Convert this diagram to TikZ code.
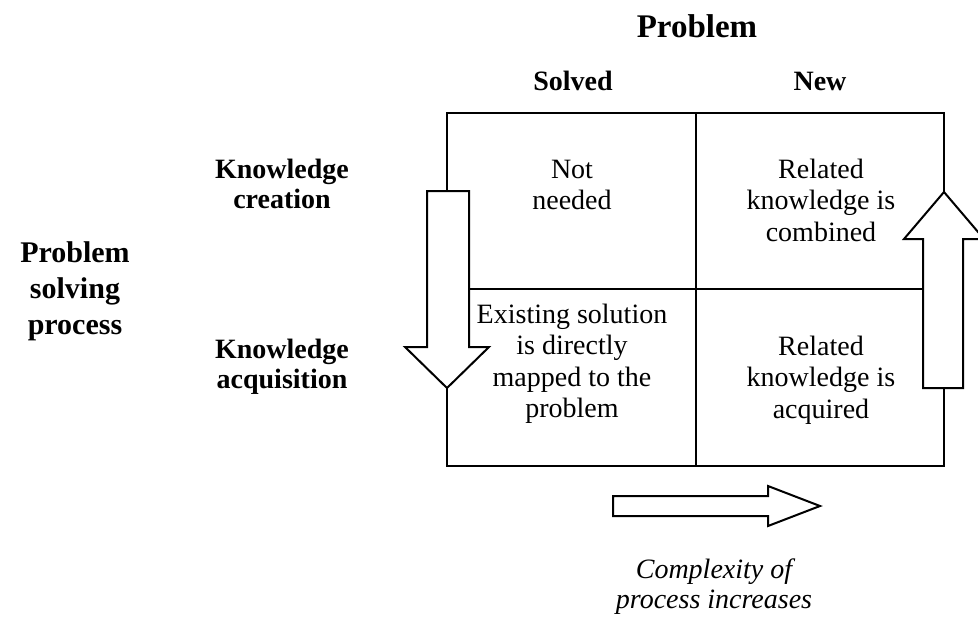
\documentclass[tikz,border=0pt]{standalone}
\usepackage{fontspec}
\setmainfont{Liberation Serif}
\begin{document}
\begin{tikzpicture}[x=1pt,y=-1pt,
  rule/.style={line width=2pt, line cap=rect},
  fatarrow/.style={draw, line width=2pt, fill=white, line join=miter},
  title/.style={font=\bfseries\fontsize{33}{36}\selectfont, inner sep=0},
  colhead/.style={font=\bfseries\fontsize{28}{30}\selectfont, inner sep=0},
  rowhead/.style={font=\bfseries\fontsize{28}{30}\selectfont, align=center, inner sep=0},
  sidehead/.style={font=\bfseries\fontsize{30}{36}\selectfont, align=center, inner sep=0},
  cell/.style={font=\fontsize{28}{31.5}\selectfont, align=center, inner sep=0},
  note/.style={font=\itshape\fontsize{28}{30}\selectfont, align=center, inner sep=0},
]
\useasboundingbox (0,0) rectangle (978,622);

% grid of the 2x2 matrix
\draw[rule] (447,113) -- (944,113);
\draw[rule] (447,466) -- (944,466);
\draw[rule] (696,113) -- (696,466);
\draw[rule] (447,113) -- (447,191);
\draw[rule] (447,388) -- (447,466);
\draw[rule] (944,113) -- (944,192);
\draw[rule] (944,388) -- (944,466);
\draw[rule] (469,289) -- (923,289);

% downward block arrow on the left edge
\draw[fatarrow] (427,191) -- (469,191) -- (469,347) -- (489,347) -- (447,388)
  -- (405,347) -- (427,347) -- cycle;
% upward block arrow on the right edge
\draw[fatarrow] (923,388) -- (963,388) -- (963,239) -- (984,239) -- (944,192)
  -- (904,239) -- (923,239) -- cycle;
% rightward block arrow below the matrix
\draw[fatarrow] (613,496) -- (768,496) -- (768,486) -- (820,506) -- (768,526)
  -- (768,516) -- (613,516) -- cycle;

% headings
\node[title] (problem) at (697,26) {Problem};
\node[colhead] (solved) at (573,81) {Solved};
\node[colhead] (new) at (820,81) {New};
\node[rowhead] (kcreate) at (282,184) {Knowledge\\creation};
\node[rowhead] (kacq) at (282,367) {Knowledge\\acquisition};
\node[sidehead] (process) at (75,291) {Problem\\solving\\process};

% cell contents
\node[cell] (c11) at (572,185) {Not\\needed};
\node[cell] (c12) at (821,200) {Related\\knowledge is\\combined};
\node[cell] (c21) at (572,364) {Existing solution\\is directly\\mapped to the\\problem};
\node[cell] (c22) at (821,380) {Related\\knowledge is\\acquired};

% caption under the arrow
\node[note] (complexity) at (714,587) {Complexity of\\process increases};
\end{tikzpicture}
\end{document}
